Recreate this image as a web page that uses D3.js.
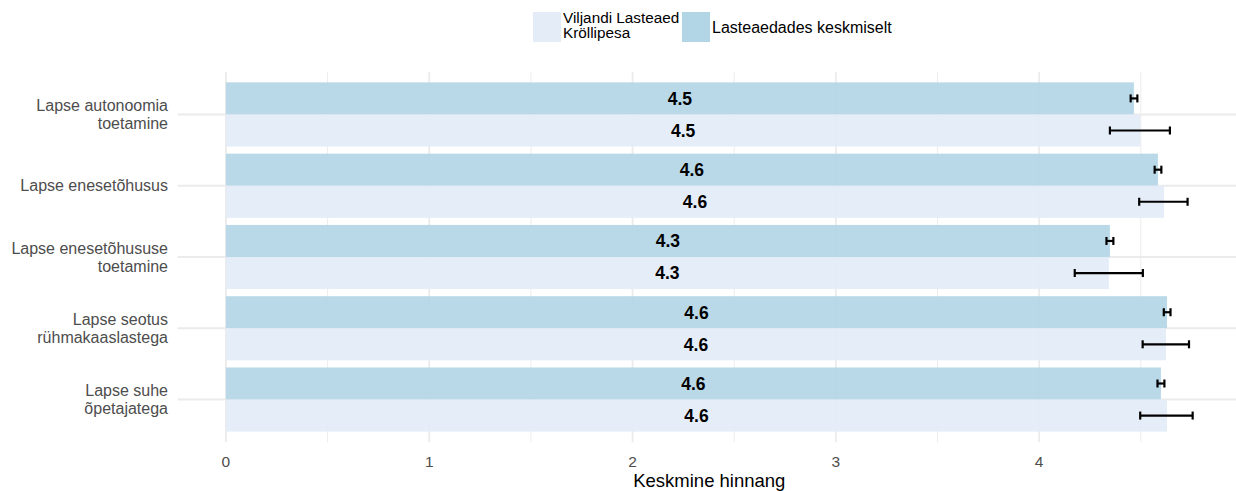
<!DOCTYPE html>
<html>
<head>
<meta charset="utf-8">
<script src="https://cdn.jsdelivr.net/npm/d3@7"></script>
<style>
  body { margin: 0; background: #fff; }
  svg { font-family: "Liberation Sans", Arial, sans-serif; display: block; }
</style>
</head>
<body>
<div class="chart"></div>
<script>
// categories top to bottom
var categories = [
  "Lapse autonoomia toetamine",
  "Lapse enesetõhusus",
  "Lapse enesetõhususe toetamine",
  "Lapse seotus rühmakaaslastega",
  "Lapse suhe õpetajatega"
];
var categoryLines = [
  ["Lapse autonoomia", "toetamine"],
  ["Lapse enesetõhusus"],
  ["Lapse enesetõhususe", "toetamine"],
  ["Lapse seotus", "rühmakaaslastega"],
  ["Lapse suhe", "õpetajatega"]
];
var seriesNames = ["Lasteaedades keskmiselt", "Viljandi Lasteaed Kröllipesa"];

// Lasteaedades keskmiselt
var avgValues = [4.466, 4.584, 4.348, 4.629, 4.599];
var avgLow    = [4.450, 4.568, 4.331, 4.613, 4.582];
var avgHigh   = [4.483, 4.601, 4.365, 4.646, 4.616];

// Viljandi Lasteaed Kröllipesa
var kgValues = [4.497, 4.614, 4.343, 4.624, 4.629];
var kgLow    = [4.348, 4.492, 4.175, 4.509, 4.497];
var kgHigh   = [4.643, 4.730, 4.510, 4.737, 4.755];

var xTicks = [0, 1, 2, 3, 4];
var xMinor = [0.5, 1.5, 2.5, 3.5, 4.5];

var colors = {
  "Lasteaedades keskmiselt": "#b3d6e6",
  "Viljandi Lasteaed Kröllipesa": "#e3ecf7"
};

var W = 1236, H = 491;
var plot = {left: 177.6, right: 1241, top: 71.7, bottom: 442.3};

var svg = d3.select(".chart").append("svg")
  .attr("width", W).attr("height", H);

var maxX = d3.max(avgHigh.concat(kgHigh));
var pad = maxX * 0.05;
var x = d3.scaleLinear().domain([-pad, maxX + pad]).range([plot.left, plot.right]);

// discrete axis with 0.6 expansion each side
var y = d3.scalePoint().domain(categories)
  .range([plot.top, plot.bottom]).padding(0.6);
var step = y.step();
var barH = step * 0.45;

var rows = categories.map(function(c, i) {
  return {
    cat: c,
    series: [
      {name: seriesNames[0], v: avgValues[i], lo: avgLow[i], hi: avgHigh[i], off: -barH},
      {name: seriesNames[1], v: kgValues[i], lo: kgLow[i], hi: kgHigh[i], off: 0}
    ]
  };
});

// grid
var grid = svg.append("g");
grid.selectAll(".minor").data(xMinor).enter().append("line")
  .attr("x1", d => x(d)).attr("x2", d => x(d))
  .attr("y1", plot.top).attr("y2", plot.bottom)
  .attr("stroke", "#ededed").attr("stroke-width", 1);
grid.selectAll(".major").data(xTicks).enter().append("line")
  .attr("x1", d => x(d)).attr("x2", d => x(d))
  .attr("y1", plot.top).attr("y2", plot.bottom)
  .attr("stroke", "#ebebeb").attr("stroke-width", 1.8);
grid.selectAll(".hmajor").data(categories).enter().append("line")
  .attr("x1", plot.left).attr("x2", plot.right)
  .attr("y1", d => y(d)).attr("y2", d => y(d))
  .attr("stroke", "#ebebeb").attr("stroke-width", 2);

// bars
var groups = svg.selectAll(".grp").data(rows).enter().append("g");
groups.selectAll("rect").data(d => d.series.map(s => Object.assign({cat: d.cat}, s)))
  .enter().append("rect")
  .attr("x", x(0))
  .attr("y", d => y(d.cat) + d.off)
  .attr("width", d => x(d.v) - x(0))
  .attr("height", barH)
  .attr("fill", d => colors[d.name])
  .attr("fill-opacity", 0.92);

// value labels
groups.selectAll(".lbl").data(d => d.series.map(s => Object.assign({cat: d.cat}, s)))
  .enter().append("text")
  .attr("x", d => x(d.v / 2))
  .attr("y", d => y(d.cat) + d.off + barH / 2)
  .attr("dy", "0.36em")
  .attr("text-anchor", "middle")
  .attr("font-weight", "bold")
  .attr("font-size", 17.5)
  .attr("fill", "#000")
  .text(d => d3.format(".1f")(d.v));

// error bars
var errs = groups.selectAll(".err").data(d => d.series.map(s => Object.assign({cat: d.cat}, s)))
  .enter().append("g")
  .attr("stroke", "#000").attr("stroke-width", 2.2);
errs.append("line")
  .attr("x1", d => x(d.lo)).attr("x2", d => x(d.hi))
  .attr("y1", d => y(d.cat) + d.off + barH / 2).attr("y2", d => y(d.cat) + d.off + barH / 2);
[ "lo", "hi" ].forEach(function(k) {
  errs.append("line")
    .attr("x1", d => x(d[k])).attr("x2", d => x(d[k]))
    .attr("y1", d => y(d.cat) + d.off + barH / 2 - 4)
    .attr("y2", d => y(d.cat) + d.off + barH / 2 + 4);
});

// y axis labels
var ylab = svg.append("g").selectAll("text").data(categories).enter().append("text")
  .attr("text-anchor", "end")
  .attr("font-size", 16)
  .attr("fill", "#4d4d4d")
  .attr("x", 168)
  .attr("y", d => y(d));
ylab.each(function(d, i) {
  var lines = categoryLines[i];
  var lh = 18;
  var t = d3.select(this);
  lines.forEach(function(l, j) {
    t.append("tspan").attr("x", 168)
      .attr("y", y(d) + (j - (lines.length - 1) / 2) * lh)
      .attr("dy", "0.35em")
      .text(l);
  });
});

// x axis labels
svg.append("g").selectAll("text").data(xTicks).enter().append("text")
  .attr("x", d => x(d)).attr("y", 462).attr("dy", "0.35em")
  .attr("text-anchor", "middle")
  .attr("font-size", 15.5).attr("fill", "#4d4d4d")
  .text(d => d);

svg.append("text")
  .attr("x", (plot.left + plot.right) / 2).attr("y", 480.5).attr("dy", "0.35em")
  .attr("text-anchor", "middle")
  .attr("font-size", 18.5).attr("fill", "#000")
  .text("Keskmine hinnang");

// legend
var leg = svg.append("g");
leg.append("rect").attr("x", 533).attr("y", 12).attr("width", 28).attr("height", 30)
  .attr("fill", colors[seriesNames[1]]);
var lt = leg.append("text").attr("font-size", 15.3).attr("fill", "#000");
lt.append("tspan").attr("x", 563).attr("y", 23).text("Viljandi Lasteaed");
lt.append("tspan").attr("x", 563).attr("y", 38).text("Kröllipesa");
leg.append("rect").attr("x", 682).attr("y", 12).attr("width", 28).attr("height", 30)
  .attr("fill", colors[seriesNames[0]]);
leg.append("text").attr("font-size", 16).attr("fill", "#000")
  .attr("x", 712).attr("y", 33).text("Lasteaedades keskmiselt");
</script>
</body>
</html>
